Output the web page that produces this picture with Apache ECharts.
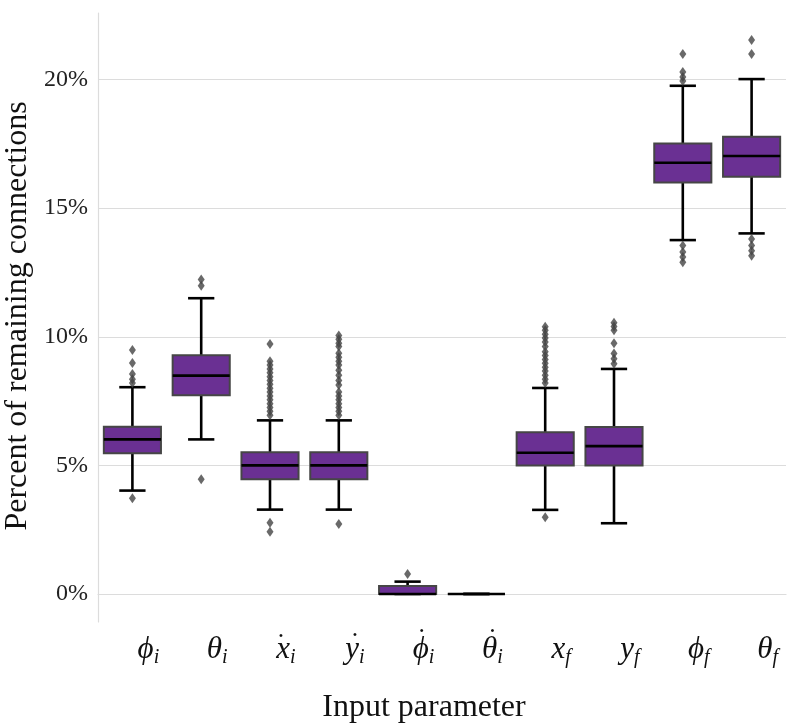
<!DOCTYPE html>
<html>
<head>
<meta charset="utf-8">
<script src="https://cdn.jsdelivr.net/npm/echarts@6/dist/echarts.min.js"></script>
<style>html,body{margin:0;padding:0;background:#fff}#c{width:800px;height:726px}</style>
</head>
<body>
<div id="c"></div>
<script>
// ---- data ----
const catBase = ['\u03D5', '\u03B8', 'x', 'y', '\u03D5', '\u03B8', 'x', 'y', '\u03D5', '\u03B8'];
const catDot  = [false, false, true, true, true, true, false, false, false, false];
const catSub  = ['i', 'i', 'i', 'i', 'i', 'i', 'f', 'f', 'f', 'f'];
const whiskerLow  = [4.02, 6.01, 3.28, 3.28, 0.00, 0, 3.27, 2.75, 13.76, 14.02];
const q1          = [5.47, 7.73, 4.46, 4.46, 0.00, 0, 5.00, 5.00, 16.00, 16.22];
const median      = [6.01, 8.49, 5.00, 5.00, 0.00, 0, 5.49, 5.75, 16.77, 17.03];
const q3          = [6.50, 9.28, 5.51, 5.51, 0.31, 0, 6.29, 6.49, 17.52, 17.78];
const whiskerHigh = [8.04, 11.50, 6.75, 6.75, 0.48, 0, 8.01, 8.75, 19.76, 20.02];
const outliers = [
  [9.49, 8.98, 8.55, 8.35, 8.2, 3.72],
  [12.23, 11.98, 4.46],
  [9.72, 9.05, 8.9, 8.75, 8.6, 8.45, 8.3, 8.15, 8.0, 7.85, 7.7, 7.55, 7.4, 7.25, 7.1, 6.95, 2.77, 2.42],
  [10.05, 9.9, 9.75, 9.62, 9.36, 9.2, 9.05, 8.9, 8.7, 8.5, 8.3, 8.13, 7.85, 7.7, 7.55, 7.4, 7.25, 7.1, 6.95, 2.72],
  [0.78],
  [],
  [10.39, 10.25, 10.1, 9.95, 9.8, 9.62, 9.42, 9.27, 9.12, 8.97, 8.82, 8.67, 8.5, 8.35, 8.2, 2.98],
  [10.55, 10.4, 10.25, 9.75, 9.35, 9.15, 8.95],
  [21.0, 20.3, 20.1, 19.95, 13.55, 13.3, 13.1, 12.9],
  [21.54, 21.0, 13.8, 13.55, 13.35, 13.15]
];
const yTicks = [0, 5, 10, 15, 20];
const xTitle = 'Input parameter';
const yTitle = 'Percent of remaining connections';

// ---- build ----
const categories = catBase.map((b, i) => b + '_' + catSub[i]);
const boxData = categories.map((c, i) => [i, whiskerLow[i], q1[i], median[i], q3[i], whiskerHigh[i]]);
const outData = [];
outliers.forEach((arr, i) => arr.forEach(v => outData.push([i, v])));
const dotStyleFor = {'x': 'dx', 'y': 'dy', '\u03D5': 'dp', '\u03B8': 'dt'};

const FILL = '#6a3093';
const chart = echarts.init(document.getElementById('c'), null, {renderer: 'canvas'});
chart.setOption({
  animation: false,
  backgroundColor: '#fff',
  grid: {left: 98, right: 14, top: 13, bottom: 104, containLabel: false},
  xAxis: [{
    type: 'category',
    data: categories,
    boundaryGap: true,
    axisLine: {show: true, lineStyle: {color: '#dcdcdc', width: 1.2}},
    axisTick: {show: false},
    splitLine: {show: false},
    axisLabel: {
      interval: 0,
      margin: 10,
      padding: [0, 0, 0, 32],
      formatter: (v) => {
        const p = v.split('_');
        return '{m|' + p[0] + '}{s|' + p[1] + '}';
      },
      rich: {
        m: {fontFamily: 'Liberation Serif', fontStyle: 'italic', fontSize: 31, lineHeight: 36, color: '#111'},
        s: {fontFamily: 'Liberation Serif', fontStyle: 'italic', fontSize: 20, lineHeight: 20, verticalAlign: 'bottom', color: '#111'}
      }
    }
  }, {
    type: 'category',
    data: categories,
    position: 'bottom',
    boundaryGap: true,
    axisLine: {show: false},
    axisTick: {show: false},
    splitLine: {show: false},
    axisLabel: {
      interval: 0,
      margin: 12,
      formatter: (v, idx) => {
        if (!catDot[idx]) return '';
        return '{' + dotStyleFor[catBase[idx]] + '|\u02D9}';
      },
      rich: {
        dx: {fontFamily: 'Liberation Serif', fontSize: 28, lineHeight: 10, padding: [12, 0, 0, 22], color: '#111'},
        dy: {fontFamily: 'Liberation Serif', fontSize: 28, lineHeight: 10, padding: [9, 0, 0, 32], color: '#111'},
        dp: {fontFamily: 'Liberation Serif', fontSize: 28, lineHeight: 10, padding: [1, 0, 0, 28], color: '#111'},
        dt: {fontFamily: 'Liberation Serif', fontSize: 28, lineHeight: 10, padding: [1, 0, 0, 32], color: '#111'}
      }
    }
  }],
  yAxis: {
    type: 'value',
    min: -1.09,
    max: 22.59,
    axisLine: {show: true, lineStyle: {color: '#dcdcdc', width: 1.2}},
    axisTick: {show: false, customValues: yTicks},
    splitLine: {show: true, lineStyle: {color: '#dcdcdc', width: 1.2}},
    axisLabel: {
      customValues: yTicks,
      margin: 10,
      formatter: v => v + '%',
      fontFamily: 'Liberation Serif',
      fontSize: 24,
      color: '#222'
    }
  },
  graphic: [
    {type: 'text', x: 18, y: 316, rotation: Math.PI / 2,
     style: {text: yTitle, font: '32px "Liberation Serif"', fill: '#111', textAlign: 'center', textVerticalAlign: 'middle'}},
    {type: 'text', x: 424, y: 708,
     style: {text: xTitle, font: '32px "Liberation Serif"', fill: '#111', textAlign: 'center', textVerticalAlign: 'middle'}}
  ],
  series: [
    {
      type: 'custom',
      data: boxData,
      xAxisIndex: 0,
      encode: {x: 0, y: [1, 2, 3, 4, 5]},
      z: 2,
      renderItem: (params, api) => {
        const i = api.value(0);
        const band = api.size([1, 0])[0];
        const bw = band * 0.83;
        const cw = bw * 0.46;
        const pLo = api.coord([i, api.value(1)]);
        const pQ1 = api.coord([i, api.value(2)]);
        const pMed = api.coord([i, api.value(3)]);
        const pQ3 = api.coord([i, api.value(4)]);
        const pHi = api.coord([i, api.value(5)]);
        const x = pMed[0];
        const lineStyle = {stroke: '#000', lineWidth: 2.6, fill: null};
        return {
          type: 'group',
          children: [
            {type: 'line', shape: {x1: x, y1: pQ3[1], x2: x, y2: pHi[1]}, style: lineStyle},
            {type: 'line', shape: {x1: x, y1: pQ1[1], x2: x, y2: pLo[1]}, style: lineStyle},
            {type: 'line', shape: {x1: x - cw / 2, y1: pHi[1], x2: x + cw / 2, y2: pHi[1]}, style: lineStyle},
            {type: 'line', shape: {x1: x - cw / 2, y1: pLo[1], x2: x + cw / 2, y2: pLo[1]}, style: lineStyle},
            {type: 'rect', shape: {x: x - bw / 2, y: pQ3[1], width: bw, height: pQ1[1] - pQ3[1]},
             style: {fill: FILL, stroke: '#464646', lineWidth: 2}},
            {type: 'line', shape: {x1: x - bw / 2, y1: pMed[1], x2: x + bw / 2, y2: pMed[1]}, style: lineStyle}
          ]
        };
      }
    },
    {
      type: 'scatter',
      data: outData,
      xAxisIndex: 0,
      symbol: 'diamond',
      symbolSize: [7, 10],
      itemStyle: {color: '#444'},
      z: 3
    }
  ]
});
</script>
</body>
</html>
